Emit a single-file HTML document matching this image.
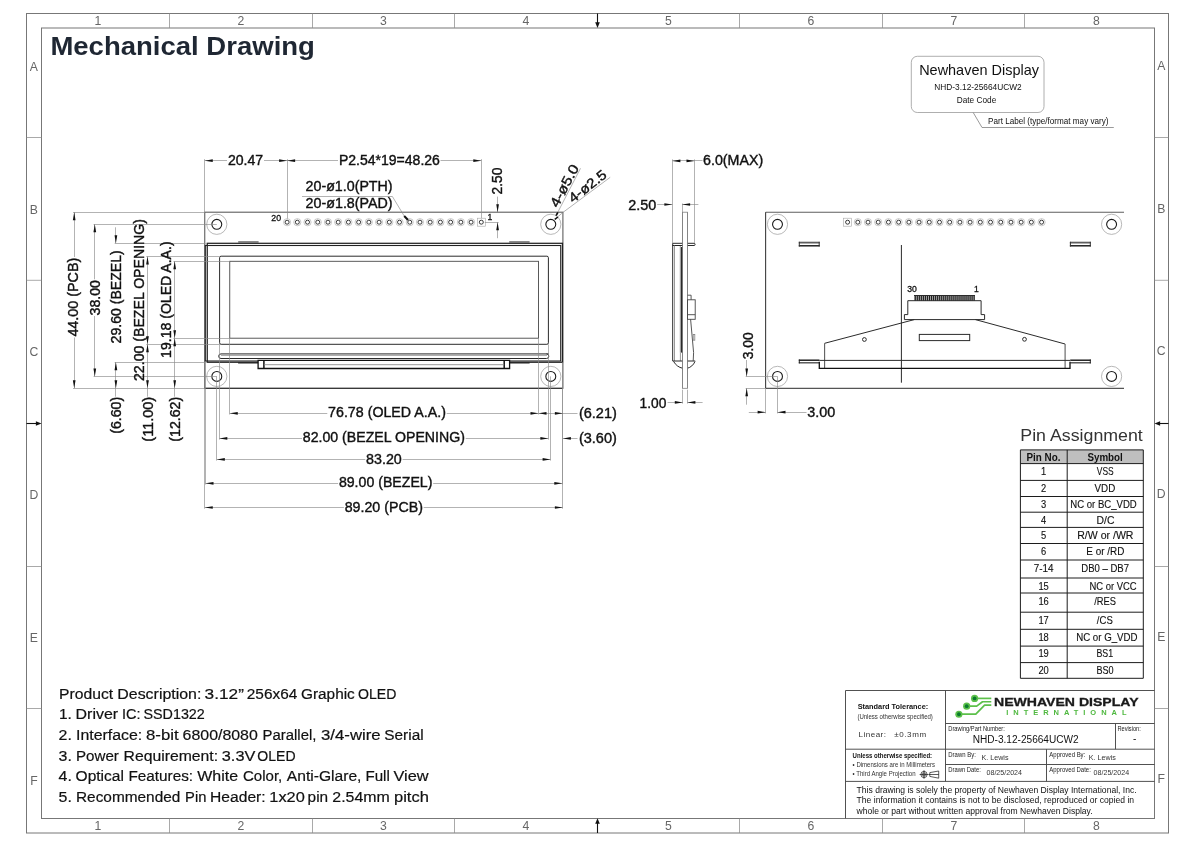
<!DOCTYPE html>
<html lang="en"><head><meta charset="utf-8"><title>Mechanical Drawing</title>
<style>
html,body{margin:0;padding:0;background:#fff}
svg{display:block;will-change:transform}
text{font-family:"Liberation Sans",sans-serif;fill:#111}
.o{stroke:#2b2b2b;stroke-width:1;fill:none}
.ob{stroke:#111;stroke-width:1.5;fill:none}
.g{stroke:#808080;stroke-width:.8;fill:none}
.e{stroke:#8a8a8a;stroke-width:.65;fill:none}
.fo{stroke:#777;stroke-width:1;fill:none}
.fz{stroke:#8c8c8c;stroke-width:.75;fill:none}
.fi{stroke:#a8a8a8;stroke-width:1.2;fill:none}
.ah{fill:#111;stroke:none}
.d{font-size:13.8px;stroke:#111;stroke-width:.38px}
.z{font-size:12.2px;fill:#666}
.t{stroke:#484848;stroke-width:.95;fill:none}
.tt{stroke:#1c1c1c;stroke-width:1;fill:none}
.ttl{font-size:26.2px;font-weight:bold;fill:#1f2733}
.pl1{font-size:14.8px}
.pl2{font-size:8.4px}
.pl3{font-size:8.6px}
.pd{font-size:15.3px;fill:#111;stroke:#111;stroke-width:.2px}
.pa{font-size:16.8px;fill:#333}
.th{font-size:10.4px;font-weight:bold}
.tc{font-size:10.1px;fill:#111;stroke:#111;stroke-width:.12px}
.s8{font-size:8.6px;stroke:#111;stroke-width:.3px}
.s8f{font-size:8.6px;stroke:#111;stroke-width:.3px}
.nf{fill:#fff;stroke:none}
.lb{stroke:#9a9a9a;stroke-width:.8;fill:none}
.aa2{stroke:#444;stroke-width:.9;fill:none}
.pc{stroke:#5e5e5e;stroke-width:1.1;fill:none}
.lc{stroke:#999;stroke-width:.7;fill:none}
.lp{stroke:#a6a6a6;stroke-width:.6;fill:none}
.hc{stroke:#1a1a1a;stroke-width:1.1;fill:none}
.pn{stroke:#222;stroke-width:.9;fill:none}
.aa{stroke:#484848;stroke-width:.9;fill:none}
.tb1{font-size:7.2px;font-weight:bold}
.tb2{font-size:6.4px;fill:#333}
.tb3{font-size:8px;fill:#333}
.tb4{font-size:7px;font-weight:bold}
.tb5{font-size:6.3px;fill:#222}
.tb6{font-size:10px}
.tb7{font-size:7.3px;fill:#333}
.tb8{font-size:8.6px}
.lg1{font-size:11.7px;font-weight:bold;fill:#1a1a1a;stroke:#1a1a1a;stroke-width:.3px}
.lg2{font-size:7.5px;font-weight:bold;fill:#4fb83f}
.ps{stroke:#151515;stroke-width:.7;fill:none}
</style></head><body>
<svg width="1200" height="848" viewBox="0 0 1200 848">
<rect width="1200" height="848" fill="#fff"/>
<rect class="fo" x="26.50" y="13.50" width="1142.00" height="819.50"/>
<rect class="fo" x="41.50" y="28.00" width="1113.00" height="790.50"/>
<path class="fz" d="M169.50 13.50L169.50 28.00"/>
<path class="fz" d="M169.50 818.50L169.50 833.00"/>
<path class="fz" d="M312.50 13.50L312.50 28.00"/>
<path class="fz" d="M312.50 818.50L312.50 833.00"/>
<path class="fz" d="M454.50 13.50L454.50 28.00"/>
<path class="fz" d="M454.50 818.50L454.50 833.00"/>
<path class="fz" d="M739.50 13.50L739.50 28.00"/>
<path class="fz" d="M739.50 818.50L739.50 833.00"/>
<path class="fz" d="M882.50 13.50L882.50 28.00"/>
<path class="fz" d="M882.50 818.50L882.50 833.00"/>
<path class="fz" d="M1024.50 13.50L1024.50 28.00"/>
<path class="fz" d="M1024.50 818.50L1024.50 833.00"/>
<path class="fz" d="M26.50 137.50L41.50 137.50"/>
<path class="fz" d="M1154.50 137.50L1168.50 137.50"/>
<path class="fz" d="M26.50 280.30L41.50 280.30"/>
<path class="fz" d="M1154.50 280.30L1168.50 280.30"/>
<path class="fz" d="M26.50 566.50L41.50 566.50"/>
<path class="fz" d="M1154.50 566.50L1168.50 566.50"/>
<path class="fz" d="M26.50 708.50L41.50 708.50"/>
<path class="fz" d="M1154.50 708.50L1168.50 708.50"/>
<path d="M597.5 13.5V24" stroke="#111" stroke-width="1.1" fill="none"/>
<path class="ah" d="M597.50 27.90L595.20 22.30L599.80 22.30Z"/>
<path d="M597.5 833V822" stroke="#111" stroke-width="1.1" fill="none"/>
<path class="ah" d="M597.50 818.20L595.20 823.80L599.80 823.80Z"/>
<path d="M26.5 423.5H37" stroke="#111" stroke-width="1.1" fill="none"/>
<path class="ah" d="M41.50 423.50L35.90 421.20L35.90 425.80Z"/>
<path d="M1168.5 423.5H1158" stroke="#111" stroke-width="1.1" fill="none"/>
<path class="ah" d="M1154.50 423.50L1160.10 421.20L1160.10 425.80Z"/>
<text class="z" x="98.00" y="25.10" text-anchor="middle">1</text>
<text class="z" x="98.00" y="830.40" text-anchor="middle">1</text>
<text class="z" x="241.00" y="25.10" text-anchor="middle">2</text>
<text class="z" x="241.00" y="830.40" text-anchor="middle">2</text>
<text class="z" x="383.50" y="25.10" text-anchor="middle">3</text>
<text class="z" x="383.50" y="830.40" text-anchor="middle">3</text>
<text class="z" x="526.00" y="25.10" text-anchor="middle">4</text>
<text class="z" x="526.00" y="830.40" text-anchor="middle">4</text>
<text class="z" x="668.50" y="25.10" text-anchor="middle">5</text>
<text class="z" x="668.50" y="830.40" text-anchor="middle">5</text>
<text class="z" x="811.00" y="25.10" text-anchor="middle">6</text>
<text class="z" x="811.00" y="830.40" text-anchor="middle">6</text>
<text class="z" x="954.00" y="25.10" text-anchor="middle">7</text>
<text class="z" x="954.00" y="830.40" text-anchor="middle">7</text>
<text class="z" x="1096.50" y="25.10" text-anchor="middle">8</text>
<text class="z" x="1096.50" y="830.40" text-anchor="middle">8</text>
<text class="z" x="33.90" y="70.80" text-anchor="middle">A</text>
<text class="z" x="1161.20" y="70.20" text-anchor="middle">A</text>
<text class="z" x="33.90" y="213.60" text-anchor="middle">B</text>
<text class="z" x="1161.20" y="212.80" text-anchor="middle">B</text>
<text class="z" x="33.90" y="356.40" text-anchor="middle">C</text>
<text class="z" x="1161.20" y="355.40" text-anchor="middle">C</text>
<text class="z" x="33.90" y="499.20" text-anchor="middle">D</text>
<text class="z" x="1161.20" y="498.00" text-anchor="middle">D</text>
<text class="z" x="33.90" y="642.00" text-anchor="middle">E</text>
<text class="z" x="1161.20" y="640.60" text-anchor="middle">E</text>
<text class="z" x="33.90" y="784.80" text-anchor="middle">F</text>
<text class="z" x="1161.20" y="783.20" text-anchor="middle">F</text>
<text class="ttl" x="50.40" y="55.00" textLength="264.5" lengthAdjust="spacingAndGlyphs">Mechanical Drawing</text>
<rect class="lb" x="911.30" y="56.30" width="132.70" height="56.20" rx="6"/>
<text class="pl1" x="979.05" y="74.90" text-anchor="middle" textLength="119.8" lengthAdjust="spacingAndGlyphs">Newhaven Display</text>
<text class="pl2" x="978.00" y="90.00" text-anchor="middle" textLength="87.5" lengthAdjust="spacingAndGlyphs">NHD-3.12-25664UCW2</text>
<text class="pl2" x="976.50" y="102.60" text-anchor="middle" textLength="39.5" lengthAdjust="spacingAndGlyphs">Date Code</text>
<path class="g" d="M973.20 112.50L982.00 127.50L1113.80 127.50"/>
<text class="pl3" x="988.00" y="123.60" textLength="120.5" lengthAdjust="spacingAndGlyphs">Part Label (type/format may vary)</text>
<rect class="pc" x="204.75" y="212.20" width="358.15" height="176.10"/>
<path class="o" d="M204.75 388.30L562.90 388.30"/>
<circle class="lc" cx="216.80" cy="224.30" r="10.10"/>
<circle class="hc" cx="216.80" cy="224.30" r="4.95"/>
<circle class="lc" cx="216.80" cy="376.40" r="10.10"/>
<circle class="hc" cx="216.80" cy="376.40" r="4.95"/>
<circle class="lc" cx="550.80" cy="224.30" r="10.10"/>
<circle class="hc" cx="550.80" cy="224.30" r="4.95"/>
<circle class="lc" cx="550.80" cy="376.40" r="10.10"/>
<circle class="hc" cx="550.80" cy="376.40" r="4.95"/>
<circle class="lp" cx="287.10" cy="222.20" r="3.60"/>
<circle class="pn" cx="287.10" cy="222.20" r="2.00"/>
<circle class="lp" cx="297.32" cy="222.20" r="3.60"/>
<circle class="pn" cx="297.32" cy="222.20" r="2.00"/>
<circle class="lp" cx="307.54" cy="222.20" r="3.60"/>
<circle class="pn" cx="307.54" cy="222.20" r="2.00"/>
<circle class="lp" cx="317.76" cy="222.20" r="3.60"/>
<circle class="pn" cx="317.76" cy="222.20" r="2.00"/>
<circle class="lp" cx="327.98" cy="222.20" r="3.60"/>
<circle class="pn" cx="327.98" cy="222.20" r="2.00"/>
<circle class="lp" cx="338.21" cy="222.20" r="3.60"/>
<circle class="pn" cx="338.21" cy="222.20" r="2.00"/>
<circle class="lp" cx="348.43" cy="222.20" r="3.60"/>
<circle class="pn" cx="348.43" cy="222.20" r="2.00"/>
<circle class="lp" cx="358.65" cy="222.20" r="3.60"/>
<circle class="pn" cx="358.65" cy="222.20" r="2.00"/>
<circle class="lp" cx="368.87" cy="222.20" r="3.60"/>
<circle class="pn" cx="368.87" cy="222.20" r="2.00"/>
<circle class="lp" cx="379.09" cy="222.20" r="3.60"/>
<circle class="pn" cx="379.09" cy="222.20" r="2.00"/>
<circle class="lp" cx="389.31" cy="222.20" r="3.60"/>
<circle class="pn" cx="389.31" cy="222.20" r="2.00"/>
<circle class="lp" cx="399.53" cy="222.20" r="3.60"/>
<circle class="pn" cx="399.53" cy="222.20" r="2.00"/>
<circle class="lp" cx="409.75" cy="222.20" r="3.60"/>
<circle class="pn" cx="409.75" cy="222.20" r="2.00"/>
<circle class="lp" cx="419.97" cy="222.20" r="3.60"/>
<circle class="pn" cx="419.97" cy="222.20" r="2.00"/>
<circle class="lp" cx="430.19" cy="222.20" r="3.60"/>
<circle class="pn" cx="430.19" cy="222.20" r="2.00"/>
<circle class="lp" cx="440.42" cy="222.20" r="3.60"/>
<circle class="pn" cx="440.42" cy="222.20" r="2.00"/>
<circle class="lp" cx="450.64" cy="222.20" r="3.60"/>
<circle class="pn" cx="450.64" cy="222.20" r="2.00"/>
<circle class="lp" cx="460.86" cy="222.20" r="3.60"/>
<circle class="pn" cx="460.86" cy="222.20" r="2.00"/>
<circle class="lp" cx="471.08" cy="222.20" r="3.60"/>
<circle class="pn" cx="471.08" cy="222.20" r="2.00"/>
<rect class="lp" x="477.30" y="218.20" width="8.00" height="8.00"/>
<circle class="pn" cx="481.30" cy="222.20" r="2.00"/>
<text class="s8f" x="271.30" y="220.60" textLength="9.8" lengthAdjust="spacingAndGlyphs">20</text>
<text class="s8" x="487.60" y="220.40">1</text>
<rect x="207.25" y="243.3" width="355.2" height="118.95" stroke="#222" stroke-width="1.25" fill="none"/>
<rect x="205.3" y="245.5" width="355.4" height="115.5" stroke="#222" stroke-width="1.1" fill="none"/>
<path d="M238.2 242H258.6M509.2 242H529.6" stroke="#666" stroke-width="1.6" fill="none"/>
<rect class="o" x="219.60" y="256.20" width="328.80" height="88.10" rx="1.5"/>
<rect class="aa" x="229.75" y="261.30" width="308.75" height="76.90"/>
<path class="o" d="M548.8 353.9H221a2.3 2.3 0 0 0 0 4.6H546.5a2.3 2.3 0 0 0 0-4.6"/>
<path class="g" d="M221.00 355.30L547.00 355.30"/>
<path d="M238.1 362.9H258.1M509.6 362.9H529.6" stroke="#222" stroke-width="1.3" fill="none"/>
<path d="M258.1 360.4H509.6V368.5H258.1Z" stroke="#111" stroke-width="1.3" fill="#fff"/>
<path class="ob" d="M263.90 360.40L263.90 368.50"/>
<path class="ob" d="M504.20 360.40L504.20 368.50"/>
<path class="g" d="M263.90 364.70L504.20 364.70"/>
<path class="e" d="M204.50 159.20L204.50 212.20"/>
<path class="e" d="M287.50 159.20L287.50 218.60"/>
<path class="e" d="M481.50 159.20L481.50 218.20"/>
<path class="e" d="M204.75 160.50L227.00 160.50"/>
<path class="e" d="M264.00 160.50L287.10 160.50"/>
<path class="ah" d="M204.75 160.70L212.75 159.35L212.75 162.05Z"/>
<path class="ah" d="M287.10 160.70L279.10 159.35L279.10 162.05Z"/>
<path class="e" d="M287.10 160.50L338.00 160.50"/>
<path class="e" d="M440.50 160.50L481.30 160.50"/>
<path class="ah" d="M287.10 160.70L295.10 159.35L295.10 162.05Z"/>
<path class="ah" d="M481.30 160.70L473.30 159.35L473.30 162.05Z"/>
<text class="d" x="227.90" y="165.30" textLength="35.2" lengthAdjust="spacingAndGlyphs">20.47</text>
<text class="d" x="338.90" y="165.20" textLength="101.0" lengthAdjust="spacingAndGlyphs">P2.54*19=48.26</text>
<path class="e" d="M484.80 222.50L498.60 222.50"/>
<path class="e" d="M497.50 196.60L497.50 212.20"/>
<path class="ah" d="M497.60 212.20L496.25 204.20L498.95 204.20Z"/>
<path class="e" d="M497.50 222.20L497.50 238.20"/>
<path class="ah" d="M497.60 222.20L496.25 230.20L498.95 230.20Z"/>
<text class="d" textLength="26.8" lengthAdjust="spacingAndGlyphs" transform="translate(501.90 194.40) rotate(-90)">2.50</text>
<text class="d" x="305.60" y="191.30" textLength="87.0" lengthAdjust="spacingAndGlyphs">20-ø1.0(PTH)</text>
<text class="d" x="305.60" y="208.40" textLength="87.0" lengthAdjust="spacingAndGlyphs">20-ø1.8(PAD)</text>
<path class="e" d="M302.00 196.50L392.40 196.50L404.40 216.30"/>
<path d="M404.2 216L408 220" stroke="#111" stroke-width="2" fill="none"/>
<path class="e" d="M556.05 215.60L580.50 168.30"/>
<path class="e" d="M554.80 219.40L563.10 212.30"/>
<path class="e" d="M563.10 212.30L610.20 177.30"/>
<path d="M556.05 215.6L557.9 212.3" stroke="#111" stroke-width="1.7" fill="none"/>
<path d="M554.8 219.4L557.9 217" stroke="#111" stroke-width="1.5" fill="none"/>
<text class="d" textLength="46.0" lengthAdjust="spacingAndGlyphs" transform="translate(557.80 208.20) rotate(-62)">4-ø5.0</text>
<text class="d" textLength="44.0" lengthAdjust="spacingAndGlyphs" transform="translate(572.90 203.40) rotate(-37.5)">4-ø2.5</text>
<path class="e" d="M73.00 212.50L204.75 212.50"/>
<path class="e" d="M73.00 388.50L204.75 388.50"/>
<path class="e" d="M74.50 212.20L74.50 257.00"/>
<path class="e" d="M74.50 337.50L74.50 388.30"/>
<path class="ah" d="M74.20 212.20L72.85 220.20L75.55 220.20Z"/>
<path class="ah" d="M74.20 388.30L72.85 380.30L75.55 380.30Z"/>
<text class="d" textLength="78.9" lengthAdjust="spacingAndGlyphs" transform="translate(78.30 336.60) rotate(-90)">44.00 (PCB)</text>
<path class="e" d="M93.60 224.50L216.80 224.50"/>
<path class="e" d="M93.60 376.50L216.80 376.50"/>
<path class="e" d="M94.50 224.30L94.50 279.30"/>
<path class="e" d="M94.50 316.00L94.50 376.40"/>
<path class="ah" d="M94.80 224.30L93.45 232.30L96.15 232.30Z"/>
<path class="ah" d="M94.80 376.40L93.45 368.40L96.15 368.40Z"/>
<text class="d" textLength="35.3" lengthAdjust="spacingAndGlyphs" transform="translate(99.90 315.40) rotate(-90)">38.00</text>
<path class="e" d="M114.70 243.50L205.60 243.50"/>
<path class="e" d="M114.70 362.50L205.60 362.50"/>
<path class="e" d="M115.50 227.30L115.50 243.20"/>
<path class="ah" d="M115.90 243.20L114.55 235.20L117.25 235.20Z"/>
<path class="e" d="M115.50 362.20L115.50 396.70"/>
<path class="ah" d="M115.90 362.20L114.55 370.20L117.25 370.20Z"/>
<path class="ah" d="M115.90 388.30L114.55 380.30L117.25 380.30Z"/>
<text class="d" textLength="93.1" lengthAdjust="spacingAndGlyphs" transform="translate(120.70 343.40) rotate(-90)">29.60 (BEZEL)</text>
<path class="e" d="M146.30 256.50L219.75 256.50"/>
<path class="e" d="M146.30 344.50L219.75 344.50"/>
<path class="e" d="M147.50 256.40L147.50 396.70"/>
<path class="ah" d="M147.50 256.40L146.15 264.40L148.85 264.40Z"/>
<path class="ah" d="M147.50 344.30L146.15 336.30L148.85 336.30Z"/>
<path class="ah" d="M147.50 344.30L146.15 352.30L148.85 352.30Z"/>
<path class="ah" d="M147.50 388.30L146.15 380.30L148.85 380.30Z"/>
<text class="d" textLength="162.0" lengthAdjust="spacingAndGlyphs" transform="translate(143.90 381.00) rotate(-90)">22.00 (BEZEL OPENING)</text>
<path class="e" d="M173.50 261.50L229.75 261.50"/>
<path class="e" d="M173.50 338.50L229.75 338.50"/>
<path class="e" d="M174.50 261.30L174.50 396.70"/>
<path class="ah" d="M174.70 261.30L173.35 269.30L176.05 269.30Z"/>
<path class="ah" d="M174.70 338.30L173.35 330.30L176.05 330.30Z"/>
<path class="ah" d="M174.70 338.30L173.35 346.30L176.05 346.30Z"/>
<path class="ah" d="M174.70 388.30L173.35 380.30L176.05 380.30Z"/>
<text class="d" textLength="116.5" lengthAdjust="spacingAndGlyphs" transform="translate(171.40 357.90) rotate(-90)">19.18 (OLED A.A.)</text>
<text class="d" textLength="37.0" lengthAdjust="spacingAndGlyphs" transform="translate(120.70 433.80) rotate(-90)">(6.60)</text>
<text class="d" textLength="44.9" lengthAdjust="spacingAndGlyphs" transform="translate(153.00 441.70) rotate(-90)">(11.00)</text>
<text class="d" textLength="44.9" lengthAdjust="spacingAndGlyphs" transform="translate(180.30 441.70) rotate(-90)">(12.62)</text>
<path class="e" d="M229.75 413.50L327.30 413.50"/>
<path class="e" d="M446.70 413.50L538.50 413.50"/>
<path class="ah" d="M229.75 413.30L237.75 411.95L237.75 414.65Z"/>
<path class="ah" d="M538.50 413.30L530.50 411.95L530.50 414.65Z"/>
<text class="d" x="328.10" y="417.30" textLength="117.8" lengthAdjust="spacingAndGlyphs">76.78 (OLED A.A.)</text>
<path class="e" d="M219.30 438.50L302.00 438.50"/>
<path class="e" d="M465.70 438.50L548.40 438.50"/>
<path class="ah" d="M219.30 438.40L227.30 437.05L227.30 439.75Z"/>
<path class="ah" d="M548.40 438.40L540.40 437.05L540.40 439.75Z"/>
<text class="d" x="302.80" y="442.40" textLength="162.1" lengthAdjust="spacingAndGlyphs">82.00 (BEZEL OPENING)</text>
<path class="e" d="M216.80 459.50L365.30 459.50"/>
<path class="e" d="M402.60 459.50L550.60 459.50"/>
<path class="ah" d="M216.80 459.40L224.80 458.05L224.80 460.75Z"/>
<path class="ah" d="M550.60 459.40L542.60 458.05L542.60 460.75Z"/>
<text class="d" x="366.10" y="464.20" textLength="35.7" lengthAdjust="spacingAndGlyphs">83.20</text>
<path class="e" d="M205.50 483.50L338.10 483.50"/>
<path class="e" d="M433.20 483.50L562.30 483.50"/>
<path class="ah" d="M205.50 483.30L213.50 481.95L213.50 484.65Z"/>
<path class="ah" d="M562.30 483.30L554.30 481.95L554.30 484.65Z"/>
<text class="d" x="338.90" y="487.30" textLength="93.5" lengthAdjust="spacingAndGlyphs">89.00 (BEZEL)</text>
<path class="e" d="M204.75 507.50L343.90 507.50"/>
<path class="e" d="M423.70 507.50L562.90 507.50"/>
<path class="ah" d="M204.75 507.50L212.75 506.15L212.75 508.85Z"/>
<path class="ah" d="M562.90 507.50L554.90 506.15L554.90 508.85Z"/>
<text class="d" x="344.70" y="511.50" textLength="78.2" lengthAdjust="spacingAndGlyphs">89.20 (PCB)</text>
<path class="e" d="M229.50 338.20L229.50 414.50"/>
<path class="e" d="M538.50 338.20L538.50 414.50"/>
<path class="e" d="M219.50 344.30L219.50 439.60"/>
<path class="e" d="M548.50 344.30L548.50 439.60"/>
<path class="e" d="M216.50 376.40L216.50 460.60"/>
<path class="e" d="M550.50 376.40L550.50 460.60"/>
<path class="e" d="M205.50 362.20L205.50 484.50"/>
<path class="e" d="M562.50 362.20L562.50 484.50"/>
<path class="e" d="M204.50 388.30L204.50 508.70"/>
<path class="e" d="M562.50 388.30L562.50 508.70"/>
<path class="e" d="M538.50 413.50L577.50 413.50"/>
<path class="ah" d="M538.50 413.30L546.50 411.95L546.50 414.65Z"/>
<path class="ah" d="M562.90 413.30L554.90 411.95L554.90 414.65Z"/>
<text class="d" x="578.90" y="417.60" textLength="38.0" lengthAdjust="spacingAndGlyphs">(6.21)</text>
<path class="e" d="M562.90 438.50L577.50 438.50"/>
<path class="ah" d="M562.90 438.40L570.90 437.05L570.90 439.75Z"/>
<text class="d" x="578.90" y="442.70" textLength="38.0" lengthAdjust="spacingAndGlyphs">(3.60)</text>
<rect class="g" x="682.50" y="212.20" width="5.00" height="176.10"/>
<path class="o" d="M672.5 243.3H694a1 1 0 0 1 0 2.2H672.5"/>
<path d="M672.6 245.5H682.4" stroke="#222" stroke-width="1" fill="none"/>
<rect class="nf" x="682.90" y="242.00" width="4.20" height="5.00"/>
<path class="g" d="M682.50 212.20L682.50 388.30"/>
<path class="g" d="M687.50 212.20L687.50 388.30"/>
<path class="o" d="M672.70 243.30L672.70 361.00"/>
<path class="g" d="M674.50 245.50L674.50 361.00"/>
<path d="M681.5 247V352.6" stroke="#2a2a2a" stroke-width="1.3" fill="none"/>
<path class="g" d="M680.30 246.00L680.30 352.60"/>
<path class="g" d="M680.40 352.60L680.40 361.00"/>
<path class="o" d="M672.7 361H695.2"/>
<path class="o" d="M673.5 361.3C675.5 365 679 367.6 682.5 368.2M695 361.5C693.5 365 690.5 367.5 687.5 368.2"/>
<rect class="nf" x="682.90" y="359.50" width="4.20" height="9.50"/>
<path class="g" d="M682.50 359.00L682.50 370.00"/>
<path class="g" d="M687.50 359.00L687.50 370.00"/>
<path class="aa" d="M687.50 295.20L691.10 295.20L691.10 299.80"/>
<rect class="aa2" x="687.50" y="299.80" width="7.70" height="19.50"/>
<path class="aa2" d="M687.50 314.70L695.20 314.70"/>
<path class="aa2" d="M690.60 319.30L693.60 352.60L693.20 361.00"/>
<rect class="g" x="693.20" y="334.50" width="1.60" height="5.70"/>
<path class="e" d="M672.50 159.40L672.50 243.30"/>
<path class="e" d="M694.50 159.40L694.50 243.30"/>
<path class="e" d="M672.40 160.50L702.50 160.50"/>
<path class="ah" d="M672.40 160.90L680.40 159.55L680.40 162.25Z"/>
<path class="ah" d="M694.50 160.90L686.50 159.55L686.50 162.25Z"/>
<text class="d" x="703.00" y="164.90" textLength="60.2" lengthAdjust="spacingAndGlyphs">6.0(MAX)</text>
<text class="d" x="628.20" y="209.50" textLength="28.0" lengthAdjust="spacingAndGlyphs">2.50</text>
<path class="e" d="M657.20 204.50L672.40 204.50"/>
<path class="ah" d="M672.40 204.50L664.40 203.15L664.40 205.85Z"/>
<path class="e" d="M682.50 203.50L682.50 212.20"/>
<path class="e" d="M682.10 204.50L698.40 204.50"/>
<path class="ah" d="M682.10 204.50L690.10 203.15L690.10 205.85Z"/>
<path class="e" d="M682.50 389.70L682.50 403.60"/>
<path class="e" d="M687.50 389.70L687.50 403.60"/>
<text class="d" x="639.50" y="407.90" textLength="26.8" lengthAdjust="spacingAndGlyphs">1.00</text>
<path class="e" d="M667.60 402.50L682.80 402.50"/>
<path class="ah" d="M682.80 402.40L674.80 401.05L674.80 403.75Z"/>
<path class="e" d="M687.40 402.50L702.60 402.50"/>
<path class="ah" d="M687.40 402.40L695.40 401.05L695.40 403.75Z"/>
<path class="pc" d="M1124.00 212.20L765.65 212.20"/>
<path class="o" d="M765.65 212.20L765.65 388.30L1124.00 388.30"/>
<circle class="lc" cx="777.50" cy="224.30" r="10.10"/>
<circle class="hc" cx="777.50" cy="224.30" r="4.95"/>
<circle class="lc" cx="777.50" cy="376.40" r="10.10"/>
<circle class="hc" cx="777.50" cy="376.40" r="4.95"/>
<circle class="lc" cx="1111.60" cy="224.30" r="10.10"/>
<circle class="hc" cx="1111.60" cy="224.30" r="4.95"/>
<circle class="lc" cx="1111.60" cy="376.40" r="10.10"/>
<circle class="hc" cx="1111.60" cy="376.40" r="4.95"/>
<rect class="lp" x="843.60" y="218.20" width="8.00" height="8.00"/>
<circle class="pn" cx="847.60" cy="222.20" r="2.00"/>
<circle class="lp" cx="857.81" cy="222.20" r="3.60"/>
<circle class="pn" cx="857.81" cy="222.20" r="2.00"/>
<circle class="lp" cx="868.02" cy="222.20" r="3.60"/>
<circle class="pn" cx="868.02" cy="222.20" r="2.00"/>
<circle class="lp" cx="878.23" cy="222.20" r="3.60"/>
<circle class="pn" cx="878.23" cy="222.20" r="2.00"/>
<circle class="lp" cx="888.44" cy="222.20" r="3.60"/>
<circle class="pn" cx="888.44" cy="222.20" r="2.00"/>
<circle class="lp" cx="898.65" cy="222.20" r="3.60"/>
<circle class="pn" cx="898.65" cy="222.20" r="2.00"/>
<circle class="lp" cx="908.86" cy="222.20" r="3.60"/>
<circle class="pn" cx="908.86" cy="222.20" r="2.00"/>
<circle class="lp" cx="919.07" cy="222.20" r="3.60"/>
<circle class="pn" cx="919.07" cy="222.20" r="2.00"/>
<circle class="lp" cx="929.28" cy="222.20" r="3.60"/>
<circle class="pn" cx="929.28" cy="222.20" r="2.00"/>
<circle class="lp" cx="939.49" cy="222.20" r="3.60"/>
<circle class="pn" cx="939.49" cy="222.20" r="2.00"/>
<circle class="lp" cx="949.70" cy="222.20" r="3.60"/>
<circle class="pn" cx="949.70" cy="222.20" r="2.00"/>
<circle class="lp" cx="959.91" cy="222.20" r="3.60"/>
<circle class="pn" cx="959.91" cy="222.20" r="2.00"/>
<circle class="lp" cx="970.12" cy="222.20" r="3.60"/>
<circle class="pn" cx="970.12" cy="222.20" r="2.00"/>
<circle class="lp" cx="980.33" cy="222.20" r="3.60"/>
<circle class="pn" cx="980.33" cy="222.20" r="2.00"/>
<circle class="lp" cx="990.54" cy="222.20" r="3.60"/>
<circle class="pn" cx="990.54" cy="222.20" r="2.00"/>
<circle class="lp" cx="1000.75" cy="222.20" r="3.60"/>
<circle class="pn" cx="1000.75" cy="222.20" r="2.00"/>
<circle class="lp" cx="1010.96" cy="222.20" r="3.60"/>
<circle class="pn" cx="1010.96" cy="222.20" r="2.00"/>
<circle class="lp" cx="1021.17" cy="222.20" r="3.60"/>
<circle class="pn" cx="1021.17" cy="222.20" r="2.00"/>
<circle class="lp" cx="1031.38" cy="222.20" r="3.60"/>
<circle class="pn" cx="1031.38" cy="222.20" r="2.00"/>
<circle class="lp" cx="1041.59" cy="222.20" r="3.60"/>
<circle class="pn" cx="1041.59" cy="222.20" r="2.00"/>
<path d="M798.8 242.6H819.7" stroke="#5e5e5e" stroke-width="1.8" fill="none"/>
<path d="M798.8 245.8H819.7" stroke="#111" stroke-width="1.4" fill="none"/>
<path d="M799.3 241.8V246.5M819.2 241.8V246.5" stroke="#333" stroke-width="1" fill="none"/>
<path d="M1069.9 242.6H1090.8" stroke="#5e5e5e" stroke-width="1.8" fill="none"/>
<path d="M1069.9 245.8H1090.8" stroke="#111" stroke-width="1.4" fill="none"/>
<path d="M1070.4 241.8V246.5M1090.3 241.8V246.5" stroke="#333" stroke-width="1" fill="none"/>
<path d="M798.8 360.2H819.4" stroke="#111" stroke-width="1.4" fill="none"/>
<path d="M798.8 362.8H819.4" stroke="#444" stroke-width="1.3" fill="none"/>
<path d="M799.3 359.5V363.4" stroke="#222" stroke-width="1" fill="none"/>
<path d="M1070.2 360.2H1090.8" stroke="#111" stroke-width="1.4" fill="none"/>
<path d="M1070.2 362.8H1090.8" stroke="#444" stroke-width="1.3" fill="none"/>
<path d="M1090.3 359.5V363.4" stroke="#222" stroke-width="1" fill="none"/>
<path class="o" d="M901.40 245.00L901.40 382.70"/>
<text class="s8" x="907.20" y="292.10" textLength="9.6" lengthAdjust="spacingAndGlyphs">30</text>
<text class="s8" x="973.90" y="292.10">1</text>
<rect x="914" y="295.2" width="61" height="5.5" fill="#a0a0a0" stroke="none"/>
<path d="M915.30 295.2V300.7M917.33 295.2V300.7M919.36 295.2V300.7M921.39 295.2V300.7M923.42 295.2V300.7M925.45 295.2V300.7M927.48 295.2V300.7M929.51 295.2V300.7M931.54 295.2V300.7M933.57 295.2V300.7M935.60 295.2V300.7M937.63 295.2V300.7M939.66 295.2V300.7M941.69 295.2V300.7M943.72 295.2V300.7M945.75 295.2V300.7M947.78 295.2V300.7M949.81 295.2V300.7M951.84 295.2V300.7M953.87 295.2V300.7M955.90 295.2V300.7M957.93 295.2V300.7M959.96 295.2V300.7M961.99 295.2V300.7M964.02 295.2V300.7M966.05 295.2V300.7M968.08 295.2V300.7M970.11 295.2V300.7M972.14 295.2V300.7M974.17 295.2V300.7" stroke="#1a1a1a" stroke-width="1" fill="none"/>
<path class="o" d="M914.00 295.50L975.00 295.50"/>
<path class="o" d="M907.80 314.60L907.80 300.70L981.10 300.70L981.10 314.60L984.60 314.60L984.60 319.60L904.40 319.60L904.40 314.60L907.80 314.60"/>
<path class="o" d="M914.30 319.60L824.60 343.30"/>
<path class="pc" d="M824.60 343.30L824.60 368.40"/>
<path class="o" d="M975.40 319.60L1065.10 344.00"/>
<path class="pc" d="M1065.10 344.00L1065.10 368.40"/>
<path class="o" d="M819.30 360.40L1070.00 360.40"/>
<path d="M819.3 361.7V368.4H1070V361.7" stroke="#111" stroke-width="1.3" fill="none"/>
<rect class="o" x="919.30" y="334.40" width="50.40" height="6.20"/>
<circle class="o" cx="864.40" cy="339.50" r="1.90"/>
<circle class="o" cx="1024.50" cy="339.30" r="1.90"/>
<path class="e" d="M745.70 376.50L777.50 376.50"/>
<path class="e" d="M745.70 388.50L765.65 388.50"/>
<path class="e" d="M746.50 360.00L746.50 376.40"/>
<path class="ah" d="M746.70 376.40L745.35 368.40L748.05 368.40Z"/>
<path class="e" d="M746.50 388.30L746.50 404.70"/>
<path class="ah" d="M746.70 388.30L745.35 396.30L748.05 396.30Z"/>
<text class="d" textLength="27.0" lengthAdjust="spacingAndGlyphs" transform="translate(752.50 359.30) rotate(-90)">3.00</text>
<path class="e" d="M765.50 388.30L765.50 413.40"/>
<path class="e" d="M777.50 376.40L777.50 413.40"/>
<path class="e" d="M748.80 412.50L765.65 412.50"/>
<path class="ah" d="M765.65 412.20L757.65 410.85L757.65 413.55Z"/>
<path class="e" d="M777.50 412.50L806.50 412.50"/>
<path class="ah" d="M777.50 412.20L785.50 410.85L785.50 413.55Z"/>
<text class="d" x="807.20" y="417.10" textLength="28.0" lengthAdjust="spacingAndGlyphs">3.00</text>
<text class="pa" x="1020.30" y="440.90" textLength="122.5" lengthAdjust="spacingAndGlyphs">Pin Assignment</text>
<rect x="1020.4" y="449.9" width="122.9" height="13.7" fill="#bfbfbf"/>
<path class="tt" d="M1020.40 449.90L1143.30 449.90"/>
<path class="tt" d="M1020.40 463.60L1143.30 463.60"/>
<path class="tt" d="M1020.40 480.40L1143.30 480.40"/>
<path class="tt" d="M1020.40 496.50L1143.30 496.50"/>
<path class="tt" d="M1020.40 512.20L1143.30 512.20"/>
<path class="tt" d="M1020.40 527.40L1143.30 527.40"/>
<path class="tt" d="M1020.40 543.50L1143.30 543.50"/>
<path class="tt" d="M1020.40 560.00L1143.30 560.00"/>
<path class="tt" d="M1020.40 578.00L1143.30 578.00"/>
<path class="tt" d="M1020.40 593.00L1143.30 593.00"/>
<path class="tt" d="M1020.40 612.20L1143.30 612.20"/>
<path class="tt" d="M1020.40 629.30L1143.30 629.30"/>
<path class="tt" d="M1020.40 646.10L1143.30 646.10"/>
<path class="tt" d="M1020.40 662.60L1143.30 662.60"/>
<path class="tt" d="M1020.40 678.30L1143.30 678.30"/>
<path class="tt" d="M1020.40 449.90L1020.40 678.30"/>
<path class="tt" d="M1067.20 449.90L1067.20 678.30"/>
<path class="tt" d="M1143.30 449.90L1143.30 678.30"/>
<text class="th" x="1043.50" y="460.60" text-anchor="middle" textLength="34.0" lengthAdjust="spacingAndGlyphs">Pin No.</text>
<text class="th" x="1105.10" y="460.60" text-anchor="middle" textLength="35.4" lengthAdjust="spacingAndGlyphs">Symbol</text>
<text class="tc" x="1043.60" y="475.10" text-anchor="middle" textLength="5.2" lengthAdjust="spacingAndGlyphs">1</text>
<text class="tc" x="1105.20" y="475.10" text-anchor="middle" textLength="16.9" lengthAdjust="spacingAndGlyphs">VSS</text>
<text class="tc" x="1043.60" y="491.90" text-anchor="middle" textLength="5.2" lengthAdjust="spacingAndGlyphs">2</text>
<text class="tc" x="1104.90" y="491.90" text-anchor="middle" textLength="20.7" lengthAdjust="spacingAndGlyphs">VDD</text>
<text class="tc" x="1043.60" y="508.10" text-anchor="middle" textLength="5.2" lengthAdjust="spacingAndGlyphs">3</text>
<text class="tc" x="1103.55" y="508.10" text-anchor="middle" textLength="66.4" lengthAdjust="spacingAndGlyphs">NC or BC_VDD</text>
<text class="tc" x="1043.60" y="524.10" text-anchor="middle" textLength="5.2" lengthAdjust="spacingAndGlyphs">4</text>
<text class="tc" x="1105.50" y="524.10" text-anchor="middle" textLength="17.9" lengthAdjust="spacingAndGlyphs">D/C</text>
<text class="tc" x="1043.60" y="539.10" text-anchor="middle" textLength="5.2" lengthAdjust="spacingAndGlyphs">5</text>
<text class="tc" x="1105.35" y="539.10" text-anchor="middle" textLength="56.2" lengthAdjust="spacingAndGlyphs">R/W or /WR</text>
<text class="tc" x="1043.60" y="554.80" text-anchor="middle" textLength="5.2" lengthAdjust="spacingAndGlyphs">6</text>
<text class="tc" x="1105.35" y="554.80" text-anchor="middle" textLength="38.0" lengthAdjust="spacingAndGlyphs">E or /RD</text>
<text class="tc" x="1043.60" y="571.60" text-anchor="middle" textLength="19.8" lengthAdjust="spacingAndGlyphs">7-14</text>
<text class="tc" x="1105.15" y="571.60" text-anchor="middle" textLength="47.8" lengthAdjust="spacingAndGlyphs">DB0 – DB7</text>
<text class="tc" x="1043.60" y="589.80" text-anchor="middle" textLength="10.4" lengthAdjust="spacingAndGlyphs">15</text>
<text class="tc" x="1113.05" y="589.80" text-anchor="middle" textLength="47.2" lengthAdjust="spacingAndGlyphs">NC or VCC</text>
<text class="tc" x="1043.60" y="605.20" text-anchor="middle" textLength="10.4" lengthAdjust="spacingAndGlyphs">16</text>
<text class="tc" x="1105.05" y="605.20" text-anchor="middle" textLength="21.8" lengthAdjust="spacingAndGlyphs">/RES</text>
<text class="tc" x="1043.60" y="623.70" text-anchor="middle" textLength="10.4" lengthAdjust="spacingAndGlyphs">17</text>
<text class="tc" x="1104.80" y="623.70" text-anchor="middle" textLength="15.9" lengthAdjust="spacingAndGlyphs">/CS</text>
<text class="tc" x="1043.60" y="641.10" text-anchor="middle" textLength="10.4" lengthAdjust="spacingAndGlyphs">18</text>
<text class="tc" x="1106.85" y="641.10" text-anchor="middle" textLength="61.4" lengthAdjust="spacingAndGlyphs">NC or G_VDD</text>
<text class="tc" x="1043.60" y="657.40" text-anchor="middle" textLength="10.4" lengthAdjust="spacingAndGlyphs">19</text>
<text class="tc" x="1104.80" y="657.40" text-anchor="middle" textLength="16.7" lengthAdjust="spacingAndGlyphs">BS1</text>
<text class="tc" x="1043.60" y="674.20" text-anchor="middle" textLength="10.4" lengthAdjust="spacingAndGlyphs">20</text>
<text class="tc" x="1105.05" y="674.20" text-anchor="middle" textLength="17.2" lengthAdjust="spacingAndGlyphs">BS0</text>
<text class="pd" y="698.7"><tspan x="59.0" textLength="54.1" lengthAdjust="spacingAndGlyphs">Product</tspan> <tspan x="117.3" textLength="84.1" lengthAdjust="spacingAndGlyphs">Description:</tspan> <tspan x="204.6" textLength="39.3" lengthAdjust="spacingAndGlyphs">3.12”</tspan> <tspan x="246.8" textLength="50.5" lengthAdjust="spacingAndGlyphs">256x64</tspan> <tspan x="301.0" textLength="53.8" lengthAdjust="spacingAndGlyphs">Graphic</tspan> <tspan x="358.0" textLength="38.4" lengthAdjust="spacingAndGlyphs">OLED</tspan></text>
<text class="pd" y="719.4"><tspan x="59.0" textLength="12.9" lengthAdjust="spacingAndGlyphs">1.</tspan> <tspan x="75.6" textLength="42.5" lengthAdjust="spacingAndGlyphs">Driver</tspan> <tspan x="122.1" textLength="18.5" lengthAdjust="spacingAndGlyphs">IC:</tspan> <tspan x="143.5" textLength="61.3" lengthAdjust="spacingAndGlyphs">SSD1322</tspan></text>
<text class="pd" y="740.0"><tspan x="58.6" textLength="13.3" lengthAdjust="spacingAndGlyphs">2.</tspan> <tspan x="76.0" textLength="66.3" lengthAdjust="spacingAndGlyphs">Interface:</tspan> <tspan x="146.0" textLength="32.6" lengthAdjust="spacingAndGlyphs">8-bit</tspan> <tspan x="182.6" textLength="75.2" lengthAdjust="spacingAndGlyphs">6800/8080</tspan> <tspan x="262.6" textLength="53.8" lengthAdjust="spacingAndGlyphs">Parallel,</tspan> <tspan x="321.0" textLength="59.6" lengthAdjust="spacingAndGlyphs">3/4-wire</tspan> <tspan x="384.3" textLength="39.3" lengthAdjust="spacingAndGlyphs">Serial</tspan></text>
<text class="pd" y="760.7"><tspan x="58.6" textLength="13.3" lengthAdjust="spacingAndGlyphs">3.</tspan> <tspan x="76.0" textLength="42.9" lengthAdjust="spacingAndGlyphs">Power</tspan> <tspan x="123.5" textLength="94.6" lengthAdjust="spacingAndGlyphs">Requirement:</tspan> <tspan x="221.8" textLength="33.5" lengthAdjust="spacingAndGlyphs">3.3V</tspan> <tspan x="257.3" textLength="38.3" lengthAdjust="spacingAndGlyphs">OLED</tspan></text>
<text class="pd" y="781.3"><tspan x="58.6" textLength="13.3" lengthAdjust="spacingAndGlyphs">4.</tspan> <tspan x="75.6" textLength="48.3" lengthAdjust="spacingAndGlyphs">Optical</tspan> <tspan x="128.5" textLength="64.6" lengthAdjust="spacingAndGlyphs">Features:</tspan> <tspan x="197.3" textLength="40.8" lengthAdjust="spacingAndGlyphs">White</tspan> <tspan x="243.0" textLength="39.3" lengthAdjust="spacingAndGlyphs">Color,</tspan> <tspan x="286.8" textLength="74.6" lengthAdjust="spacingAndGlyphs">Anti-Glare,</tspan> <tspan x="365.5" textLength="24.3" lengthAdjust="spacingAndGlyphs">Full</tspan> <tspan x="393.5" textLength="35.1" lengthAdjust="spacingAndGlyphs">View</tspan></text>
<text class="pd" y="802.0"><tspan x="58.6" textLength="13.3" lengthAdjust="spacingAndGlyphs">5.</tspan> <tspan x="76.0" textLength="104.3" lengthAdjust="spacingAndGlyphs">Recommended</tspan> <tspan x="185.1" textLength="21.3" lengthAdjust="spacingAndGlyphs">Pin</tspan> <tspan x="210.1" textLength="55.5" lengthAdjust="spacingAndGlyphs">Header:</tspan> <tspan x="269.3" textLength="35.5" lengthAdjust="spacingAndGlyphs">1x20</tspan> <tspan x="307.6" textLength="20.5" lengthAdjust="spacingAndGlyphs">pin</tspan> <tspan x="332.3" textLength="57.5" lengthAdjust="spacingAndGlyphs">2.54mm</tspan> <tspan x="394.0" textLength="34.9" lengthAdjust="spacingAndGlyphs">pitch</tspan></text>
<path class="t" d="M845.50 690.50L1154.60 690.50"/>
<path class="t" d="M845.50 690.50L845.50 818.40"/>
<path class="t" d="M945.50 690.50L945.50 781.40"/>
<path class="t" d="M945.50 723.50L1154.60 723.50"/>
<path class="t" d="M845.50 749.20L1154.60 749.20"/>
<path class="t" d="M945.50 764.50L1154.60 764.50"/>
<path class="t" d="M845.50 781.40L1154.60 781.40"/>
<path class="t" d="M1115.50 723.50L1115.50 749.20"/>
<path class="t" d="M1046.50 749.20L1046.50 781.40"/>
<text class="tb1" x="857.70" y="709.30" textLength="70.5" lengthAdjust="spacingAndGlyphs">Standard Tolerance:</text>
<text class="tb2" x="857.40" y="719.30" textLength="75.5" lengthAdjust="spacingAndGlyphs">(Unless otherwise specified)</text>
<text class="tb3" x="858.60" y="737.20" textLength="27.4" lengthAdjust="spacing">Linear:</text>
<text class="tb3" x="894.20" y="737.20" textLength="31.9" lengthAdjust="spacing">±0.3mm</text>
<text class="tb4" x="852.60" y="757.50" textLength="79.5" lengthAdjust="spacingAndGlyphs">Unless otherwise specified:</text>
<text class="tb2" x="852.60" y="766.80" textLength="82.5" lengthAdjust="spacingAndGlyphs">• Dimensions are in Millimeters</text>
<text class="tb2" x="852.60" y="776.00" textLength="63.0" lengthAdjust="spacingAndGlyphs">• Third Angle Projection</text>
<circle class="ps" cx="924.00" cy="774.50" r="3.10"/>
<circle class="ps" cx="924.00" cy="774.50" r="1.60"/>
<path class="ps" d="M919.60 774.50L928.40 774.50"/>
<path class="ps" d="M924.00 770.20L924.00 778.80"/>
<path class="ps" d="M929.80 772.60L938.70 771.00L938.70 778.20L929.80 776.40Z"/>
<path class="ps" d="M928.60 774.50L938.70 774.50"/>
<g fill="none" stroke="#5cc04a" stroke-width="1.7" stroke-linejoin="round"><path d="M974.6 698.4H991.3"/><path d="M966.7 706.2H976.7L982.5 701.75H991.3"/><path d="M958.9 714.2H975.8L984.6 705.1H991.3"/></g>
<circle cx="974.6" cy="698.4" r="3.6" fill="#5cc04a"/><circle cx="974.6" cy="698.4" r="1.9" fill="#0a7a2e"/>
<circle cx="966.7" cy="706.2" r="3.6" fill="#5cc04a"/><circle cx="966.7" cy="706.2" r="1.9" fill="#0a7a2e"/>
<circle cx="958.9" cy="714.25" r="3.6" fill="#5cc04a"/><circle cx="958.9" cy="714.25" r="1.9" fill="#0a7a2e"/>
<text class="lg1" x="994.00" y="706.00" textLength="144.6" lengthAdjust="spacingAndGlyphs">NEWHAVEN DISPLAY</text>
<text class="lg2" x="1006.20" y="715.20" textLength="120.3" lengthAdjust="spacing">INTERNATIONAL</text>
<text class="tb5" x="948.30" y="731.30" textLength="56.5" lengthAdjust="spacingAndGlyphs">Drawing/Part Number:</text>
<text class="tb6" x="1025.70" y="742.50" text-anchor="middle" textLength="106.0" lengthAdjust="spacingAndGlyphs">NHD-3.12-25664UCW2</text>
<text class="tb5" x="1117.40" y="731.30" textLength="23.5" lengthAdjust="spacingAndGlyphs">Revision:</text>
<text class="tb6" x="1134.60" y="741.60" text-anchor="middle">-</text>
<text class="tb5" x="948.30" y="757.00" textLength="27.5" lengthAdjust="spacingAndGlyphs">Drawn By:</text>
<text class="tb7" x="981.50" y="760.30" textLength="27.0" lengthAdjust="spacingAndGlyphs">K. Lewis</text>
<text class="tb5" x="948.30" y="772.00" textLength="32.5" lengthAdjust="spacingAndGlyphs">Drawn Date:</text>
<text class="tb7" x="986.50" y="775.40" textLength="35.5" lengthAdjust="spacingAndGlyphs">08/25/2024</text>
<text class="tb5" x="1049.30" y="757.00" textLength="36.0" lengthAdjust="spacingAndGlyphs">Approved By:</text>
<text class="tb7" x="1088.80" y="760.30" textLength="27.0" lengthAdjust="spacingAndGlyphs">K. Lewis</text>
<text class="tb5" x="1049.30" y="772.00" textLength="41.5" lengthAdjust="spacingAndGlyphs">Approved Date:</text>
<text class="tb7" x="1093.60" y="775.40" textLength="35.5" lengthAdjust="spacingAndGlyphs">08/25/2024</text>
<text class="tb8" x="856.60" y="792.80" textLength="280.0" lengthAdjust="spacingAndGlyphs">This drawing is solely the property of Newhaven Display International, Inc.</text>
<text class="tb8" x="856.60" y="803.40" textLength="277.5" lengthAdjust="spacingAndGlyphs">The information it contains is not to be disclosed, reproduced or copied in</text>
<text class="tb8" x="856.60" y="813.80" textLength="236.0" lengthAdjust="spacingAndGlyphs">whole or part without written approval from Newhaven Display.</text>
</svg>
</body></html>
